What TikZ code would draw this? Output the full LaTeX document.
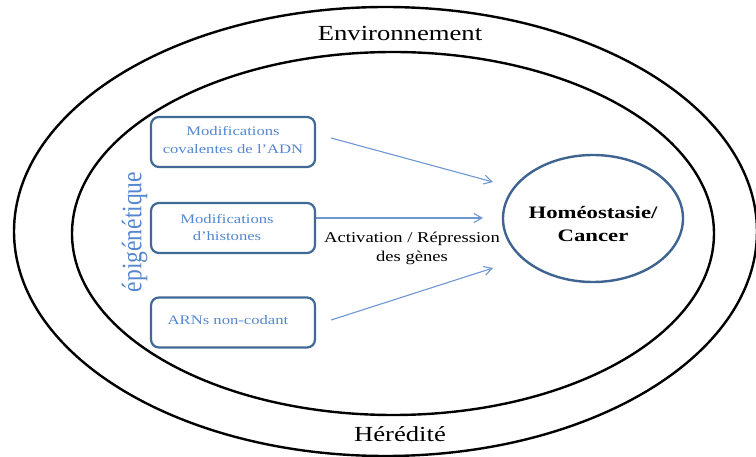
\documentclass[tikz,border=0pt]{standalone}
\usepackage{fontspec}
\usepackage{graphicx}
\setmainfont{Liberation Serif}
\newfontfamily\widefont{Liberation Serif}[FakeStretch=1.24]
\newfontfamily\boxfont{Liberation Serif}[FakeStretch=1.28]
\newfontfamily\boldwide{Liberation Serif}[FakeStretch=1.3,BoldFont={Liberation Serif Bold},BoldFeatures={FakeStretch=1.3}]
\usetikzlibrary{shapes.geometric,arrows.meta}
\definecolor{boxline}{RGB}{65,105,150}
\definecolor{boxtext}{RGB}{85,135,205}
\definecolor{arrowcol}{RGB}{110,150,210}
\definecolor{coreline}{RGB}{64,100,145}
\tikzset{
  ring/.style={draw=black, line width=2.4pt, ellipse, inner sep=0pt, outer sep=0pt},
  mechbox/.style={draw=boxline, line width=2.2pt, rounded corners=8pt,
    minimum width=164pt, minimum height=50pt, inner sep=0pt},
  mechtext/.style={text=boxtext, align=center, inner sep=0pt,
    font=\boxfont\fontsize{13}{17.5}\selectfont},
  outertext/.style={inner sep=0pt, font=\widefont\fontsize{21.5}{26}\selectfont},
  effect/.style={draw=arrowcol, line width=1.1pt,
    -{Straight Barb[length=8pt,width=9pt,line width=1.1pt]}},
}
\begin{document}
\begin{tikzpicture}[x=1pt,y=-1pt]
\useasboundingbox (0,0) rectangle (756,457);

% nested environment / heredity rings
\node[ring, minimum width=743pt, minimum height=449pt] (outer) at (385.5,231.5) {};
\node[ring, minimum width=642pt, minimum height=363pt] (inner) at (393,233.5) {};
\node[outertext, anchor=base] (env) at (400,40.7) {Environnement};
\node[outertext, anchor=base] (her) at (400,442) {Hérédité};

% epigenetic mechanisms
\node[rotate=90, text=boxtext, inner sep=0pt,
  font=\fontsize{23.5}{28}\selectfont] (epi) at (134.5,232)
  {\scalebox{1}[1.2]{épigénétique}};

\node[mechbox] (b1) at (233,142) {};
\node[mechbox] (b2) at (233,228) {};
\node[mechbox] (b3) at (233,322.5) {};
\node[mechtext] (b1t) at (233,140) {Modifications\\covalentes de l’ADN};
\node[mechtext] (b2t) at (227,227.5) {Modifications\\d’histones};
\node[mechtext, anchor=base] (b3t) at (228,325) {ARNs non-codant};

% outcome
\node[draw=coreline, line width=2.4pt, ellipse, minimum width=180pt,
  minimum height=127pt, inner sep=0pt] (core) at (593,218.5) {};
\node[align=center, inner sep=0pt,
  font=\boldwide\bfseries\fontsize{17.5}{23}\selectfont] (coret) at (593,224)
  {Homéostasie/\\Cancer};

% regulation arrows
\coordinate (t1) at (493,182);
\coordinate (t2) at (483,218);
\coordinate (t3) at (493,268);
\draw[effect] ([xshift=15pt,yshift=4pt]b1.east) -- (t1);
\draw[effect] ([yshift=10pt]b2.east) -- (t2);
\draw[effect] ([xshift=15pt,yshift=2.5pt]b3.east) -- (t3);
\node[align=center, inner sep=0pt,
  font=\widefont\fontsize{15}{19}\selectfont] (reg) at (412,248)
  {Activation / Répression\\des gènes};
\end{tikzpicture}
\end{document}
